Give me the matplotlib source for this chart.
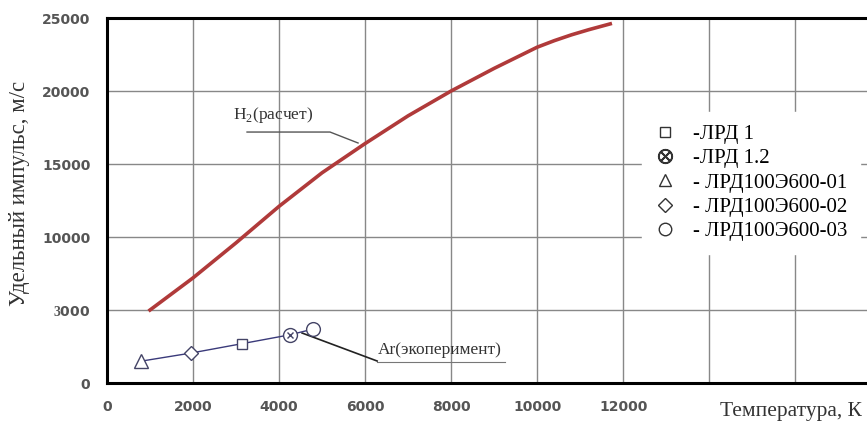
import numpy as np
import matplotlib.pyplot as plt
from matplotlib.lines import Line2D

# H2 (calculation) curve
h2_temp = [1000, 2000, 3000, 4000, 5000, 6000, 7000, 8000, 9000, 10000, 10400, 10800, 11200, 11700]
h2_isp = [5000, 7200, 9600, 12100, 14400, 16400, 18300, 20000, 21550, 23000, 23450, 23850, 24200, 24600]

# Ar (experiment) points
ar_temp = [800, 1950, 3150, 4250, 4800]
ar_isp = [1500, 2050, 2700, 3300, 3700]
ar_markers = ['^', 'D', 's', 'X', 'o']

legend_labels = ['-ЛРД 1', '-ЛРД 1.2', '- ЛРД100Э600-01', '- ЛРД100Э600-02', '- ЛРД100Э600-03']
legend_markers = ['s', 'X', '^', 'D', 'o']

x_ticks = [0, 2000, 4000, 6000, 8000, 10000, 12000]
y_ticks = [0, 5000, 10000, 15000, 20000, 25000]
y_ticklabels = ['0', r'$\mathbf{3}$000', '10000', '15000', '20000', '25000']

plt.rcParams['mathtext.fontset'] = 'custom'
plt.rcParams['mathtext.bf'] = 'Liberation Serif:bold'
plt.rcParams['mathtext.rm'] = 'Liberation Serif'

fig = plt.figure(figsize=(8.67, 4.25), dpi=100)
ax = fig.add_axes([0.1234, 0.0988, 0.893, 0.8588])

ax.plot(h2_temp, h2_isp, color='#b03a3a', linewidth=2.6, zorder=3)
ax.plot(ar_temp, ar_isp, color='#3a3a7a', linewidth=1.0, zorder=3)


def draw_marker(ax, x, y, m, size=9):
    if m == 'X':
        ax.plot(x, y, marker='o', ms=size + 1, mfc='white', mec='#444466', mew=1.0, zorder=4)
        ax.plot(x, y, marker='x', ms=size * 0.5, mec='#444466', mew=1.0, zorder=5)
    else:
        ms = size * (0.75 if m in ('s', 'D') else 1.1)
        ax.plot(x, y, marker=m, ms=ms, mfc='white', mec='#444466', mew=1.0, zorder=4)


for t, v, m in zip(ar_temp, ar_isp, ar_markers):
    draw_marker(ax, t, v, m)

ax.set_xlim(0, 18000)
ax.set_ylim(0, 25000)
grid_x = list(range(0, 18001, 2000))
ax.set_xticks(grid_x)
ax.set_xticklabels([str(t) if t in x_ticks else '' for t in grid_x])
ax.set_yticks(y_ticks)
ax.set_yticklabels(y_ticklabels)
ax.grid(True, color='#888888', linewidth=1.0)
ax.tick_params(length=0, labelsize=10, pad=12)
for lab in ax.get_xticklabels() + ax.get_yticklabels():
    lab.set_fontweight('bold')
    lab.set_color('#555555')

for side in ['left', 'bottom', 'top']:
    ax.spines[side].set_linewidth(2.2)
ax.spines['right'].set_visible(False)

# annotations
ax.text(2930, 18360, r'H$_2$(расчет)', fontsize=12.5, family='Liberation Serif',
        color='#333333', va='center')
ax.plot([3256, 5186, 5837], [17190, 17190, 16440], color='#555555', linewidth=1.0, zorder=2)
ax.text(6300, 2260, 'Ar(экоперимент)', fontsize=12.5, family='Liberation Serif',
        color='#333333', va='center')
ax.plot([6280, 9256], [1440, 1440], color='#777777', linewidth=0.8)
ax.plot([4535, 6280], [3425, 1507], color='#222222', linewidth=1.2, zorder=2)

# legend
handles = []
for m in legend_markers:
    if m == 'X':
        handles.append(Line2D([], [], marker='$\\otimes$', ms=10, color='#333333', linestyle='none'))
    else:
        handles.append(Line2D([], [], marker=m, ms=9 if m not in ('s', 'D') else 7,
                              mfc='white', mec='#333333', mew=1.0, linestyle='none'))
leg = ax.legend(handles, legend_labels, loc='upper left', bbox_to_anchor=(0.691, 0.743),
                prop={'family': 'Liberation Serif', 'size': 15}, frameon=True,
                facecolor='white', edgecolor='white', framealpha=1.0,
                labelspacing=0.23, handlelength=1.0, handletextpad=0.85,
                borderpad=0.6, borderaxespad=0)

ax.set_ylabel('Удельный импульс, м/с', fontsize=16.5, family='Liberation Serif', color='#333333')
ax.yaxis.set_label_coords(-0.1, 0.52)
fig.text(0.83, 0.022, 'Температура, К', fontsize=15.5, family='Liberation Serif', color='#333333')

fig.savefig('out.png', dpi=100)
